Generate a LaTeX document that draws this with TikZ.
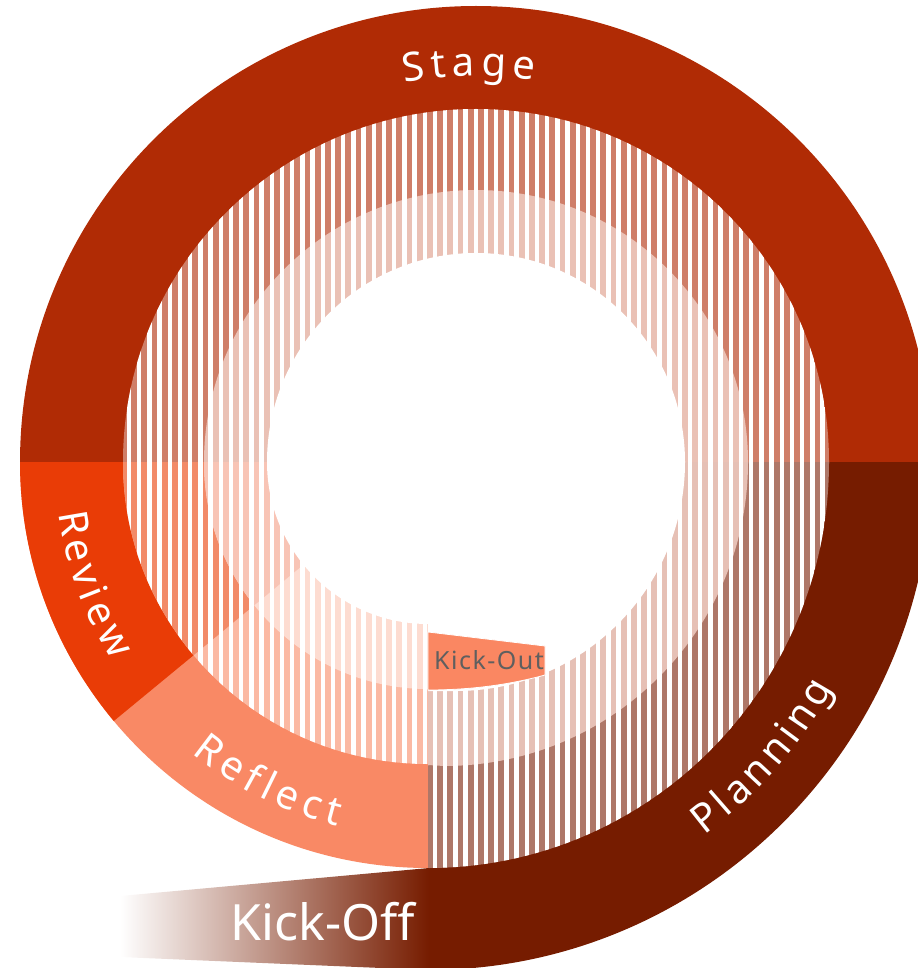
\documentclass[tikz,border=0pt]{standalone}
\usepackage{fontspec}
\usetikzlibrary{decorations.text}
\newfontfamily\lblfont{Noto Sans}
\newfontfamily\plainfont{Noto Sans}
\newfontfamily\smallfont[LetterSpace=6]{Noto Sans}
\newcommand\Lf{\lblfont\fontsize{40}{48}\selectfont\color{white}}
\newcommand\Gs{\lblfont\fontsize{23}{24}\selectfont}
\newcommand\Gm{\lblfont\fontsize{20}{24}\selectfont}
\newcommand\Gn{\lblfont\fontsize{17}{24}\selectfont}
\definecolor{stageC}{RGB}{176,43,5}
\definecolor{planC}{RGB}{118,28,0}
\definecolor{revC}{RGB}{233,60,6}
\definecolor{reflC}{RGB}{249,137,101}
\definecolor{koC}{RGB}{250,135,98}
\definecolor{koText}{RGB}{95,95,95}
\definecolor{stageM}{RGB}{207,126,104}
\definecolor{stageL}{RGB}{234,193,181}
\definecolor{planM}{RGB}{174,119,104}
\definecolor{planL}{RGB}{230,192,181}
\definecolor{revM}{RGB}{242,138,104}
\definecolor{revL}{RGB}{248,196,181}
\definecolor{reflM}{RGB}{251,185,163}
\definecolor{reflL}{RGB}{253,220,209}
\newcommand\spiralA{(428,970) arc[start angle=90,end angle=0,x radius=504,y radius=508] arc[start angle=0,end angle=-180,radius=456] arc[start angle=180,end angle=90,x radius=408,y radius=406] -- cycle}
\newcommand\spiralB{(428,868) arc[start angle=90,end angle=0,x radius=401,y radius=406] arc[start angle=0,end angle=-180,radius=353] arc[start angle=180,end angle=90,x radius=305,y radius=302] -- cycle}
\newcommand\spiralC{(428,765) -- (444,766) arc[start angle=90,end angle=0,radius=304] arc[start angle=0,end angle=-180,radius=272] arc[start angle=180,end angle=90,x radius=224,y radius=227] -- cycle}
\newcommand\spiralD{(428,691) -- (456,691) arc[start angle=90,end angle=0,radius=229] arc[start angle=0,end angle=-180,radius=209] arc[start angle=180,end angle=90,x radius=161,y radius=162] -- cycle}
\newcommand\sectorfill[4]{%
  \fill[#1] (0,0) rectangle (918,462.6);
  \fill[#3] (0,462) rectangle (428.6,968);
  \fill[#2] (428,462) rectangle (918,968);
  \fill[#4] (428,462) -- (0,462) -- (0,814.8) -- cycle;
}
\tikzset{
  arclabel/.style={decorate, decoration={text along path, text align=center, text={#1}}}
}
\begin{document}
\begin{tikzpicture}[x=1pt,y=-1pt]
\useasboundingbox (0,0) rectangle (918,968);
\clip (0,0) rectangle (918,968);
% turn 1 (solid), turn 2 (medium), turn 3 (light)
\begin{scope}\clip \spiralA; \sectorfill{stageC}{planC}{reflC}{revC}\end{scope}
\begin{scope}\clip \spiralB; \sectorfill{stageM}{planM}{reflM}{revM}\end{scope}
\begin{scope}\clip \spiralC; \sectorfill{stageL}{planL}{reflL}{revL}\end{scope}
\fill[white] \spiralD;
% white stripes over the hatched turns
\begin{scope}\clip \spiralB;
  \foreach \i in {0,...,89} \fill[white] ({14.5+10.2*\i},0) rectangle ({18.9+10.2*\i},968);
\end{scope}
% Kick-Out end of the spiral
\fill[koC, draw=white, line width=0.8] (428,632) -- (545,646) -- (545,675) .. controls (505,686) and (465,690) .. (428,690) -- cycle;
% Kick-Off tail
\shade[left color=white, right color=planC] (429,868) -- (120,896) -- (120,957) -- (429,970) -- cycle;
% labels
\path[arclabel={|\Lf|S|\Gs| |\Lf|t|\Gs| |\Lf|a|\Gs| |\Lf|g|\Gs| |\Lf|e}] (249.1,149.5) arc[start angle=-126,end angle=-56,radius=386];
\path[arclabel={|\Lf|R|\Gm| |\Lf|e|\Gm| |\Lf|v|\Gm| |\Lf|i|\Gm| |\Lf|e|\Gm| |\Lf|w}] (55,462) arc[start angle=180,end angle=140,radius=373];
\path[arclabel={|\Lf|R|\Gs| |\Lf|e|\Gs| |\Lf|f|\Gs| |\Lf|l|\Gs| |\Lf|e|\Gs| |\Lf|c|\Gs| |\Lf|t}] (134.5,695.4) arc[start angle=141.5,end angle=91.5,radius=375];
\path[arclabel={|\Lf|P|\Gn| |\Lf|l|\Gn| |\Lf|a|\Gn| |\Lf|n|\Gn| |\Lf|n|\Gn| |\Lf|i|\Gn| |\Lf|n|\Gn| |\Lf|g}] (657.5,866.4) arc[start angle=60,end angle=22,radius=467];
\node[font=\plainfont\fontsize{50}{60}\selectfont, text=white, anchor=base, inner sep=0] (kickoff) at (323,940) {Kick-Off};
\node[font=\smallfont\fontsize{25}{30}\selectfont, text=koText, anchor=base, inner sep=0] (kickout) at (489,669) {Kick-Out};
\end{tikzpicture}
\end{document}
